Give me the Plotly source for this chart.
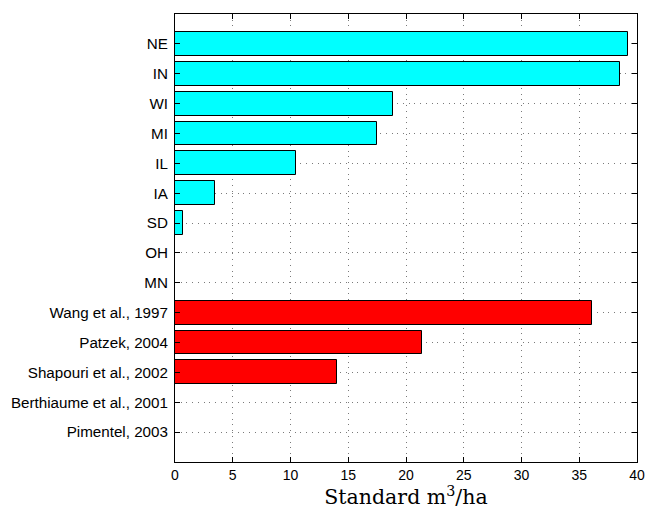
import plotly.graph_objects as go

# Ethanol-related water / volume figures by state and by literature source
states = ["NE", "IN", "WI", "MI", "IL", "IA", "SD", "OH", "MN"]
state_values = [39.2, 38.5, 18.9, 17.5, 10.5, 3.5, 0.7, 0.0, 0.0]

studies = ["Wang et al., 1997", "Patzek, 2004", "Shapouri et al., 2002",
           "Berthiaume et al., 2001", "Pimentel, 2003"]
study_values = [36.1, 21.35, 14.0, 0.0, 0.0]

x_ticks = [0, 5, 10, 15, 20, 25, 30, 35, 40]

labels = states + studies
n = len(labels)
# top-to-bottom order: first label sits highest on the axis
positions = list(range(n, 0, -1))
state_pos = positions[:len(states)]
study_pos = positions[len(states):]

fig = go.Figure()
fig.add_trace(go.Bar(
    x=state_values, y=state_pos, orientation="h", width=0.8,
    marker=dict(color="#00FFFF", line=dict(color="black", width=1)),
    showlegend=False,
))
fig.add_trace(go.Bar(
    x=study_values, y=study_pos, orientation="h", width=0.8,
    marker=dict(color="#FF0000", line=dict(color="black", width=1)),
    showlegend=False,
))

grid_dash = "1px,4.7px"
fig.update_layout(
    width=648, height=510,
    margin=dict(l=174.5, r=10.7, t=14, b=48.3, autoexpand=False),
    paper_bgcolor="white", plot_bgcolor="white",
    font=dict(family="Liberation Sans, Arial, sans-serif", size=14, color="black"),
    bargap=0,
)
fig.update_xaxes(
    range=[0, 40], tickvals=x_ticks, ticktext=[str(v) for v in x_ticks],
    tickfont=dict(size=14),
    showline=True, linecolor="black", linewidth=1, mirror="allticks",
    ticks="inside", ticklen=5, tickcolor="black", tickwidth=1,
    showgrid=True, gridcolor="#7a7a7a", gridwidth=1, griddash=grid_dash,
    zeroline=False,
    title=dict(text="Standard m<sup>3</sup>/ha",
               font=dict(family="DejaVu Serif, serif", size=20.5),
               standoff=2),
)
fig.update_yaxes(
    range=[0, n + 1], tickvals=positions, ticktext=labels,
    tickfont=dict(size=15.2),
    showline=True, linecolor="black", linewidth=1, mirror="allticks",
    ticks="inside", ticklen=5, tickcolor="black", tickwidth=1,
    showgrid=True, gridcolor="#7a7a7a", gridwidth=1, griddash=grid_dash,
    zeroline=False, ticklabelstandoff=3,
)

fig.write_html("out.html")
